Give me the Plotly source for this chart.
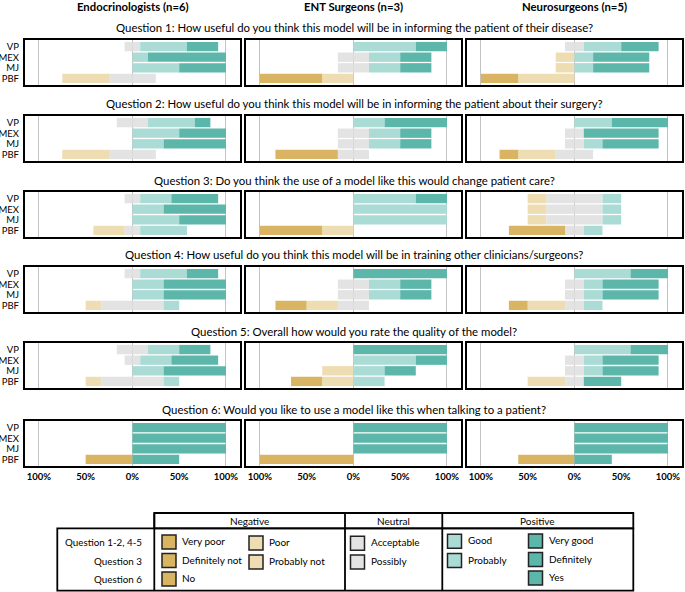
import plotly.graph_objects as go

W, H = 685, 592

respondents = ["VP", "MEX", "MJ", "PBF"]
group_titles = ["Endocrinologists (n=6)", "ENT Surgeons (n=3)", "Neurosurgeons (n=5)"]
group_n = [6, 3, 5]
questions = [
    "Question 1: How useful do you think this model will be in informing the patient of their disease?",
    "Question 2: How useful do you think this model will be in informing the patient about their surgery?",
    "Question 3: Do you think the use of a model like this would change patient care?",
    "Question 4: How useful do you think this model will be in training other clinicians/surgeons?",
    "Question 5: Overall how would you rate the quality of the model?",
    "Question 6: Would you like to use a model like this when talking to a patient?",
]
tick_vals = [-1, -0.5, 0, 0.5, 1]
tick_text = ["100%", "50%", "0%", "50%", "100%"]

# counts per row (VP, MEX, MJ, PBF): [very negative, negative, neutral, positive, very positive]
endo_q1 = [[0, 0, 1, 3, 2], [0, 0, 0, 1, 5], [0, 0, 0, 3, 3], [0, 3, 3, 0, 0]]
endo_q2 = [[0, 0, 2, 3, 1], [0, 0, 0, 3, 3], [0, 0, 0, 2, 4], [0, 3, 3, 0, 0]]
endo_q3 = [[0, 0, 1, 2, 3], [0, 0, 0, 2, 4], [0, 0, 0, 3, 3], [0, 2, 1, 3, 0]]
endo_q4 = [[0, 0, 1, 3, 2], [0, 0, 0, 2, 4], [0, 0, 0, 2, 4], [0, 1, 4, 1, 0]]
endo_q5 = [[0, 0, 2, 2, 2], [0, 0, 1, 2, 3], [0, 0, 0, 2, 4], [0, 1, 4, 1, 0]]
endo_q6 = [[0, 0, 0, 0, 6], [0, 0, 0, 0, 6], [0, 0, 0, 0, 6], [3, 0, 0, 0, 3]]

ent_q1 = [[0, 0, 0, 2, 1], [0, 0, 1, 1, 1], [0, 0, 1, 1, 1], [2, 1, 0, 0, 0]]
ent_q2 = [[0, 0, 0, 1, 2], [0, 0, 1, 1, 1], [0, 0, 1, 1, 1], [2, 0, 1, 0, 0]]
ent_q3 = [[0, 0, 0, 2, 1], [0, 0, 0, 3, 0], [0, 0, 0, 3, 0], [2, 1, 0, 0, 0]]
ent_q4 = [[0, 0, 0, 0, 3], [0, 0, 1, 1, 1], [0, 0, 1, 1, 1], [1, 1, 1, 0, 0]]
ent_q5 = [[0, 0, 0, 0, 3], [0, 0, 0, 2, 1], [0, 1, 0, 1, 1], [1, 1, 0, 1, 0]]
ent_q6 = [[0, 0, 0, 0, 3], [0, 0, 0, 0, 3], [0, 0, 0, 0, 3], [3, 0, 0, 0, 0]]

neuro_q1 = [[0, 0, 1, 2, 2], [0, 1, 0, 1, 3], [0, 1, 0, 1, 3], [2, 3, 0, 0, 0]]
neuro_q2 = [[0, 0, 0, 2, 3], [0, 0, 1, 0, 4], [0, 0, 1, 1, 3], [1, 2, 2, 0, 0]]
neuro_q3 = [[0, 1, 3, 1, 0], [0, 1, 3, 1, 0], [0, 1, 3, 1, 0], [3, 0, 1, 1, 0]]
neuro_q4 = [[0, 0, 0, 3, 2], [0, 0, 1, 1, 3], [0, 0, 1, 1, 3], [1, 2, 1, 1, 0]]
neuro_q5 = [[0, 0, 0, 3, 2], [0, 0, 1, 1, 3], [0, 0, 1, 1, 3], [0, 2, 1, 0, 2]]
neuro_q6 = [[0, 0, 0, 0, 5], [0, 0, 0, 0, 5], [0, 0, 0, 0, 5], [3, 0, 0, 0, 2]]

endo = [endo_q1, endo_q2, endo_q3, endo_q4, endo_q5, endo_q6]
ent = [ent_q1, ent_q2, ent_q3, ent_q4, ent_q5, ent_q6]
neuro = [neuro_q1, neuro_q2, neuro_q3, neuro_q4, neuro_q5, neuro_q6]
groups = [endo, ent, neuro]

c_vneg = "#D9B463"
c_neg = "#EEDDB2"
c_neu = "#E3E3E3"
c_pos = "#AADBD5"
c_vpos = "#5CB6AA"

# layout geometry (pixels)
col_x = [(25, 240), (246, 461), (467, 682)]
col_center = [132.5, 353.5, 574.5]
row_top = [40, 116, 192, 267, 343, 421]
panel_h = 45
x_range = [-1.148, 1.15]


def px(x):
    return x / W


def py(y):
    return 1 - y / H


fig = go.Figure()
layout_axes = {}
for r in range(6):
    for c in range(3):
        k = r * 3 + c + 1
        xa = "x" if k == 1 else f"x{k}"
        ya = "y" if k == 1 else f"y{k}"
        n = group_n[c]
        rows = groups[c][r]
        vneg = [-row[0] / n for row in rows]
        neg = [-row[1] / n for row in rows]
        neu_l = [-row[2] / n / 2 for row in rows]
        neu_r = [row[2] / n / 2 for row in rows]
        pos = [row[3] / n for row in rows]
        vpos = [row[4] / n for row in rows]
        for vals, col in [(neu_l, c_neu), (neg, c_neg), (vneg, c_vneg),
                          (neu_r, c_neu), (pos, c_pos), (vpos, c_vpos)]:
            fig.add_trace(go.Bar(
                x=vals, y=respondents, orientation="h", xaxis=xa, yaxis=ya,
                marker=dict(color=col, line=dict(width=0)),
                showlegend=False, hoverinfo="skip"))
        x0, x1 = col_x[c]
        y0 = row_top[r]
        y1 = y0 + panel_h
        layout_axes[("xaxis" if k == 1 else f"xaxis{k}")] = dict(
            domain=[px(x0), px(x1)], anchor=ya, range=x_range,
            showline=True, mirror=True, linecolor="black", linewidth=2.2,
            showgrid=False, zeroline=False, ticks="",
            tickmode="array", tickvals=tick_vals, ticktext=tick_text,
            showticklabels=(r == 5), automargin=False,
            tickfont=dict(family="Lato", size=9.5, color="black", weight="bold"),
            minor=dict(tickvals=[-1, 0, 1], showgrid=True, gridcolor="#C4C4C4",
                       gridwidth=1, ticks=""),
            fixedrange=True)
        layout_axes[("yaxis" if k == 1 else f"yaxis{k}")] = dict(
            domain=[py(y1), py(y0)], anchor=xa, range=[-0.62, 3.62],
            type="category", categoryorder="array", categoryarray=respondents[::-1],
            tickmode="array", tickvals=respondents, ticktext=respondents,
            showline=True, mirror=True, linecolor="black", linewidth=2.2,
            showgrid=False, zeroline=False, ticks="",
            showticklabels=(c == 0), automargin=False,
            ticklabelstandoff=2,
            tickfont=dict(family="Lato", size=9.5, color="black"),
            fixedrange=True)

annotations = []
for c in range(3):
    annotations.append(dict(
        text=group_titles[c], x=px(col_center[c]), y=py(6.5), xref="paper", yref="paper",
        xanchor="center", yanchor="middle", showarrow=False,
        font=dict(family="Lato", size=11.3, color="black", weight="bold")))
for r in range(6):
    annotations.append(dict(
        text=questions[r], x=px(354), y=py(row_top[r] - 12), xref="paper", yref="paper",
        xanchor="center", yanchor="middle", showarrow=False,
        font=dict(family="Lato", size=11.4, color="black")))

# legend table
shapes = []
lw = 1.8
tl, tcol1, tneg, tneu, tright = 57.3, 154.3, 345, 442.3, 633.3
ttop, thead, tbot = 513, 528.3, 590.7
shapes.append(dict(type="rect", xref="paper", yref="paper", x0=px(tcol1), x1=px(tright),
                   y0=py(thead), y1=py(ttop), line=dict(color="black", width=lw)))
shapes.append(dict(type="rect", xref="paper", yref="paper", x0=px(tl), x1=px(tright),
                   y0=py(tbot), y1=py(thead), line=dict(color="black", width=lw)))
for xv in [tcol1, tneg, tneu]:
    shapes.append(dict(type="line", xref="paper", yref="paper", x0=px(xv), x1=px(xv),
                       y0=py(tbot), y1=py(ttop), line=dict(color="black", width=lw)))

for txt, xc in [("Negative", (tcol1 + tneg) / 2), ("Neutral", (tneg + tneu) / 2),
                ("Positive", (tneu + tright) / 2)]:
    annotations.append(dict(text=txt, x=px(xc), y=py(520.7), xref="paper", yref="paper",
                            xanchor="center", yanchor="middle", showarrow=False,
                            font=dict(family="Lato", size=10, color="black")))

legend_rows = ["Question 1-2, 4-5", "Question 3", "Question 6"]
legend_row_y = [541.7, 560.7, 579]
for txt, yv in zip(legend_rows, legend_row_y):
    annotations.append(dict(text=txt, x=px(143.5), y=py(yv), xref="paper", yref="paper",
                            xanchor="right", yanchor="middle", showarrow=False,
                            font=dict(family="Lato", size=9.8, color="black")))

legend_items = [
    (162, c_vneg, ["Very poor", "Definitely not", "No"], [542, 560.5, 579]),
    (249, c_neg, ["Poor", "Probably not"], [543, 562]),
    (350.5, c_neu, ["Acceptable", "Possibly"], [543.3, 562]),
    (447.5, c_pos, ["Good", "Probably"], [541.3, 560.5]),
    (528.5, c_vpos, ["Very good", "Definitely", "Yes"], [541, 559.5, 578]),
]
sw = 14
for sx, colr, labels, ys in legend_items:
    for lab, yv in zip(labels, ys):
        shapes.append(dict(type="rect", xref="paper", yref="paper",
                           x0=px(sx), x1=px(sx + sw), y0=py(yv + sw / 2), y1=py(yv - sw / 2),
                           fillcolor=colr, line=dict(color="#222222", width=1.5)))
        annotations.append(dict(text=lab, x=px(sx + sw + 4), y=py(yv - 1), xref="paper",
                                yref="paper", xanchor="left", yanchor="middle",
                                showarrow=False,
                                font=dict(family="Lato", size=10, color="black")))

fig.update_layout(
    width=W, height=H, margin=dict(l=0, r=0, t=0, b=0, autoexpand=False),
    paper_bgcolor="white", plot_bgcolor="white",
    barmode="relative", bargap=0.12,
    showlegend=False,
    annotations=annotations, shapes=shapes,
    font=dict(family="Lato", color="black"),
    **layout_axes)

fig.write_html("out.html",
               config={"displayModeBar": False},
               post_script="document.body.style.margin='0px';document.body.style.overflow='hidden';")
